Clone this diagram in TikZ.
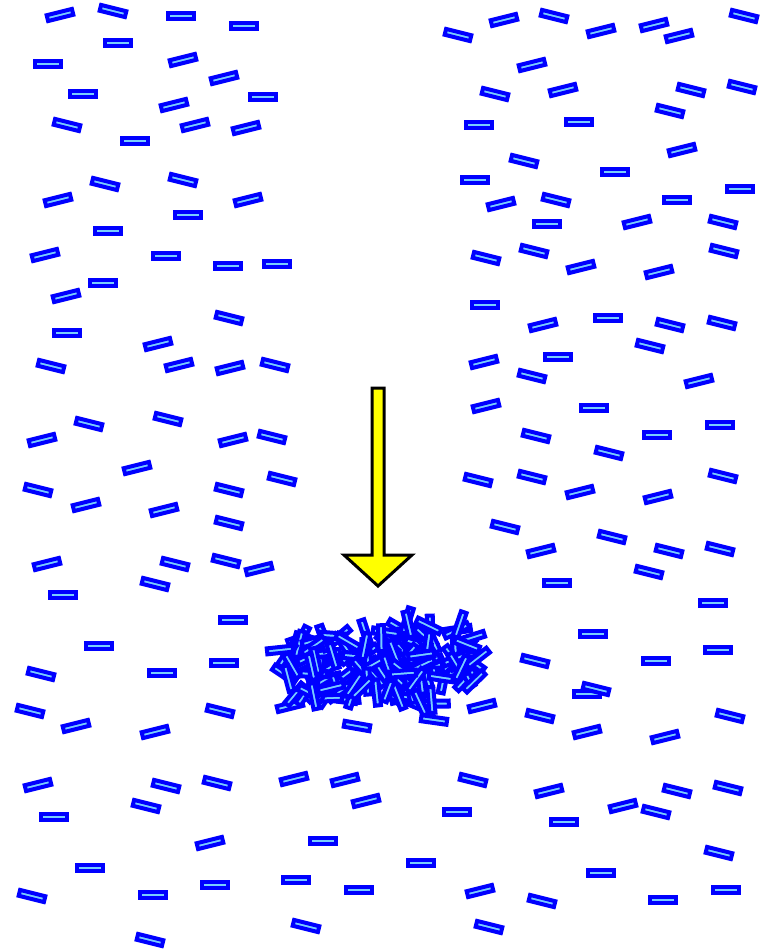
\documentclass[tikz,border=0pt]{standalone}
\usetikzlibrary{calc}
\definecolor{rodblue}{RGB}{0,0,255}
\definecolor{rodcore}{RGB}{120,205,255}
\definecolor{arrowyellow}{RGB}{255,255,0}
\tikzset{
  rod/.style={draw=rodblue, fill=rodcore, line width=4pt, rectangle,
    minimum width=26pt, minimum height=6pt, inner sep=0pt, outer sep=0pt},
  bigarrow/.style={draw=black, fill=arrowyellow, line width=3pt, line join=miter}
}
\begin{document}
\begin{tikzpicture}[x=1pt,y=-1pt]
  \useasboundingbox (0,0) rectangle (768,951);
  % free rods on the left: x / y / tilt
  \foreach \x/\y/\a in {
    60/15/14, 113/11/-14, 181/16/0, 244/26/0, 118/43/0, 48/64/0, 183/60/14,
    224/78/14, 83/94/0, 263/97/0, 174/105/14, 67/125/-14, 195/125/14,
    246/128/14, 135/141/0, 105/184/-14, 183/180/-14, 58/200/14, 248/200/14,
    188/215/0, 108/231/0, 45/255/14, 166/256/0, 228/266/0, 277/264/0,
    103/283/0, 66/296/14, 229/318/-14,
    67/333/0, 158/344/14, 51/366/-14, 179/365/14, 230/368/14, 275/365/-14,
    89/424/-14, 168/419/-14, 42/440/14, 233/440/14, 272/437/-14, 137/468/14,
    282/479/-14, 38/490/-14, 229/490/-14, 86/505/14, 164/510/14, 229/523/-14,
    47/564/14, 175/564/-14, 226/561/-14, 259/569/14, 155/584/-14, 63/595/0,
    233/620/0,
    99/646/0, 41/674/-14, 162/673/0, 224/663/0, 30/711/-14, 76/726/14,
    155/732/14, 220/711/-14, 290/706/14, 38/785/14, 166/786/-14, 217/783/-14,
    294/779/14, 146/806/-14, 54/817/0, 210/843/14, 90/868/0, 32/896/-14,
    153/895/0, 215/885/0, 296/880/0, 306/926/-14, 150/940/-14,
    345/780/14, 366/801/14, 323/841/0, 359/890/0, 421/863/0}
    \node[rod, rotate=\a] at (\x,\y) {};
  % free rods on the right
  \foreach \x/\y/\a in {
    458/35/-14, 504/20/14, 554/16/-14, 601/31/14, 654/25/14, 679/36/14,
    744/16/-14, 532/65/14, 495/94/-14, 563/90/14, 691/90/-14, 742/87/-14,
    670/111/-14, 479/125/0, 579/122/0, 524/161/-14, 682/150/14, 475/180/0,
    615/172/0, 740/189/0, 501/204/14, 556/200/-14, 677/200/0, 547/224/0,
    637/222/14, 723/222/-14, 486/258/-14, 534/251/-14, 581/267/14,
    659/272/14, 724/251/-14, 485/305/0,
    543/325/14, 608/318/0, 670/325/-14, 722/323/-14, 650/346/-14, 484/362/14,
    558/357/0, 532/376/-14, 699/381/14, 486/406/14, 594/408/0, 536/436/-14,
    657/435/0, 720/425/0, 609/453/-14, 478/480/-14, 532/477/-14, 580/492/14,
    658/497/14, 723/476/-14, 505/527/-14, 612/537/-14, 541/551/14,
    669/551/-14, 720/549/-14, 649/572/-14, 557/583/0, 713/603/0,
    593/634/0, 718/650/0, 656/661/0, 535/661/-14, 587/694/0, 596/689/-14,
    482/706/14, 540/716/-14, 587/732/14, 665/737/14, 730/716/-14,
    473/780/-14, 549/791/14, 623/806/14, 656/812/-14, 677/791/-14,
    728/788/-14, 457/812/0, 564/822/0, 719/853/-14, 601/873/0, 480/891/14,
    542/901/-14, 663/900/0, 726/890/0, 489/927/-14}
    \node[rod, rotate=\a] at (\x,\y) {};
  % the yellow arrow
  \draw[bigarrow] (372,388) -- (384,388) -- (384,555) -- (412,555)
    -- (378,586) -- (344,555) -- (372,555) -- cycle;
  % the heap of rods below the arrow: two lobes and a middle
  \pgfmathsetseed{11}
  \foreach \cxo/\cyo/\rx/\ry/\n in {328/668/50/36/75, 428/661/52/46/80, 378/666/28/38/25}{
    \foreach \i in {1,...,\n}{
      \pgfmathsetmacro\t{360*rnd}
      \pgfmathsetmacro\r{sqrt(rnd)}
      \pgfmathsetmacro\cx{\cxo+\rx*\r*cos(\t)}
      \pgfmathsetmacro\cy{\cyo+\ry*\r*sin(\t)}
      \pgfmathsetmacro\ang{180*rnd}
      \node[rod, rotate=\ang] at (\cx,\cy) {};
    }
  }
  \node[rod, rotate=-10] at (357,726) {};
  \node[rod, rotate=-8] at (434,720) {};
  \node[rod, rotate=6] at (280,650) {};
\end{tikzpicture}
\end{document}
